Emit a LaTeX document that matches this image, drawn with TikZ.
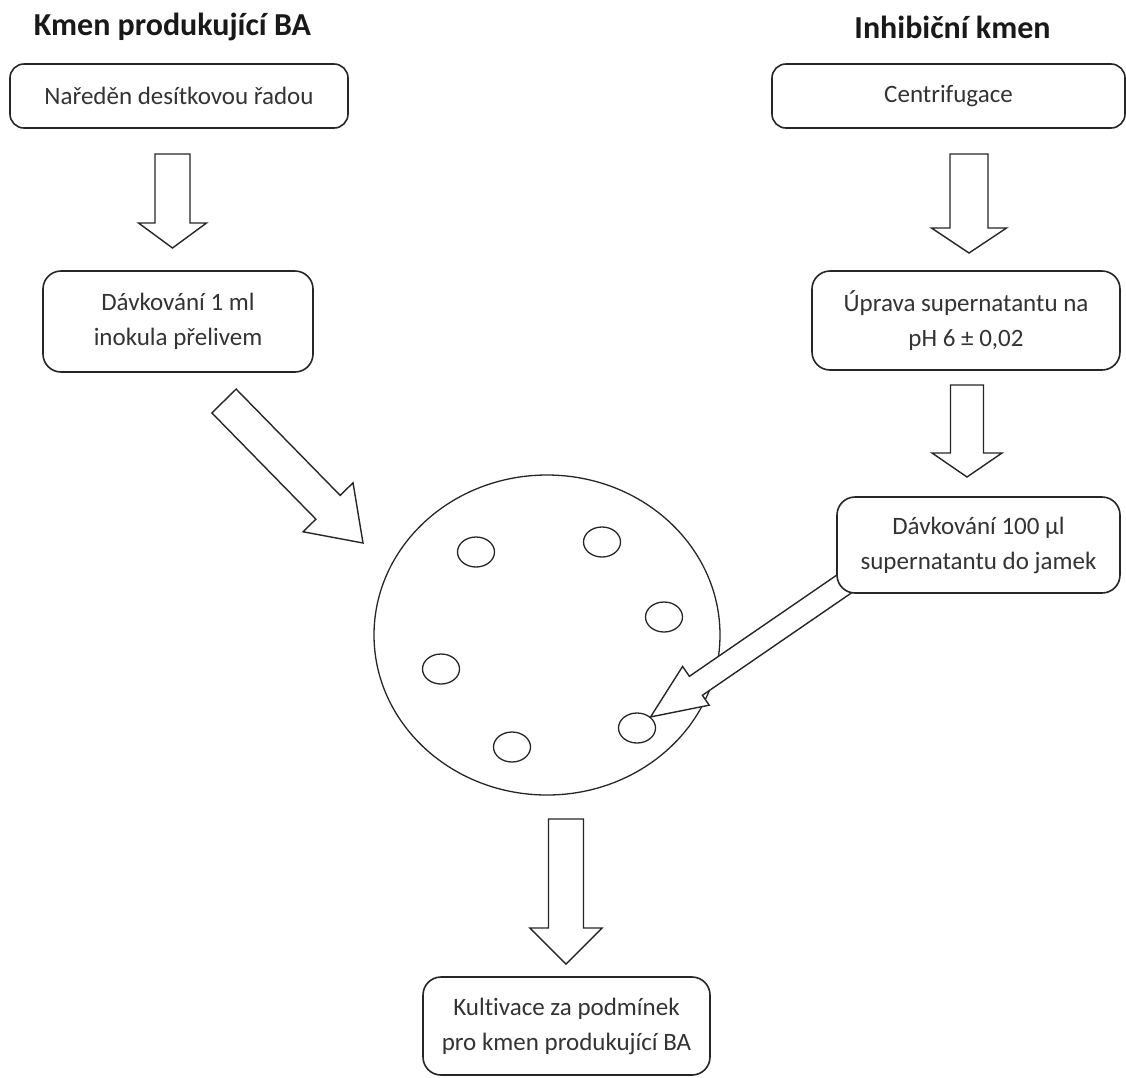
\documentclass[tikz,border=0pt]{standalone}
\usepackage{fontspec}
\setmainfont{Carlito}[Ligatures=NoCommon]
\usetikzlibrary{calc,shapes.geometric}
\tikzset{
 box/.style={draw=black!85, line width=1.6pt, rounded corners=14pt, fill=white, align=center,
   inner sep=0pt, font=\fontsize{25}{35}\selectfont, text=black!80},
 ttl/.style={font=\bfseries\fontsize{32}{38}\selectfont, inner sep=0pt, text=black!90},
 blk/.style={draw=black!85, line width=1.4pt, fill=white, line join=miter},
 dish/.style={ellipse, draw=black!85, line width=1.3pt, inner sep=0pt},
 well/.style={dish, minimum width=37pt, minimum height=30pt},
}
% #1 tail, #2 tip, #3 shaft half width, #4 head half width, #5 head length
\newcommand\blockarrow[5]{%
 \path (#2) coordinate (bat) ($(#2)!#5!(#1)$) coordinate (bah);
 \filldraw[blk] ($(#1)!#3!90:(#2)$) -- ($(bah)!#3!90:(bat)$) -- ($(bah)!#4!90:(bat)$) -- (bat)
   -- ($(bah)!#4!-90:(bat)$) -- ($(bah)!#3!-90:(bat)$) -- ($(#1)!#3!-90:(#2)$) -- cycle;}
\begin{document}
\begin{tikzpicture}[x=1pt,y=-1pt]
\useasboundingbox (0,0) rectangle (1126,1077);
% titles
\node[ttl] (t1) at (172.5,27) {Kmen produkující BA};
\node[ttl] (t2) at (952.5,27) {Inhibiční kmen};
% plate and wells
\node[dish, minimum width=346pt, minimum height=320pt] (plate) at (547,635) {};
\node[well] (w1) at (476,552) {};
\node[well] (w2) at (602,542) {};
\node[well] (w3) at (664,617) {};
\node[well] (w4) at (441,669) {};
\node[well] (w5) at (512,747) {};
\node[well] (w6) at (637,728) {};
% box positions (for arrows)
\coordinate (c1) at (179,96);
\coordinate (c2) at (948.5,96);
\coordinate (c3) at (178,321.5);
\coordinate (c4) at (966,320.5);
\coordinate (c5) at (978.5,545);
\coordinate (c6) at (566.5,1026);
% arrows
\coordinate (a1s) at (172.5,154); \coordinate (a1e) at (172.5,248);
\coordinate (a2s) at (969,154);   \coordinate (a2e) at (969,253);
\coordinate (a3s) at (967,385);   \coordinate (a3e) at (967,477);
\coordinate (a4s) at (224,401);   \coordinate (a4e) at (363,543);
\coordinate (a5s) at (863,571);
\coordinate (a6s) at (566,819);   \coordinate (a6e) at (566,964);
\blockarrow{a1s}{a1e}{17.5pt}{34pt}{25pt}
\blockarrow{a2s}{a2e}{19pt}{37.5pt}{25pt}
\blockarrow{a3s}{a3e}{16.5pt}{35pt}{24pt}
\blockarrow{a4s}{a4e}{17pt}{35pt}{50pt}
\blockarrow{a5s}{w6.north east}{11.5pt}{23.5pt}{55pt}
\blockarrow{a6s}{a6e}{17.5pt}{36pt}{36pt}
% boxes
\node[box, minimum width=338pt, minimum height=64pt] (n1) at (c1) {Naředěn desítkovou řadou};
\node[box, minimum width=353pt, minimum height=64pt] (n2) at (c2) {Centrifugace};
\node[box, minimum width=270pt, minimum height=101pt, rounded corners=18pt] (n3) at (c3) {Dávkování 1 ml\\inokula přelivem};
\node[box, minimum width=308pt, minimum height=99pt, rounded corners=18pt] (n4) at (c4) {Úprava supernatantu na\\pH 6 ± 0,02};
\node[box, minimum width=283pt, minimum height=96pt, rounded corners=18pt] (n5) at (c5) {Dávkování 100 µl\\supernatantu do jamek};
\node[box, minimum width=287pt, minimum height=98pt, rounded corners=18pt] (n6) at (c6) {Kultivace za podmínek\\pro kmen produkující BA};
\end{tikzpicture}
\end{document}
